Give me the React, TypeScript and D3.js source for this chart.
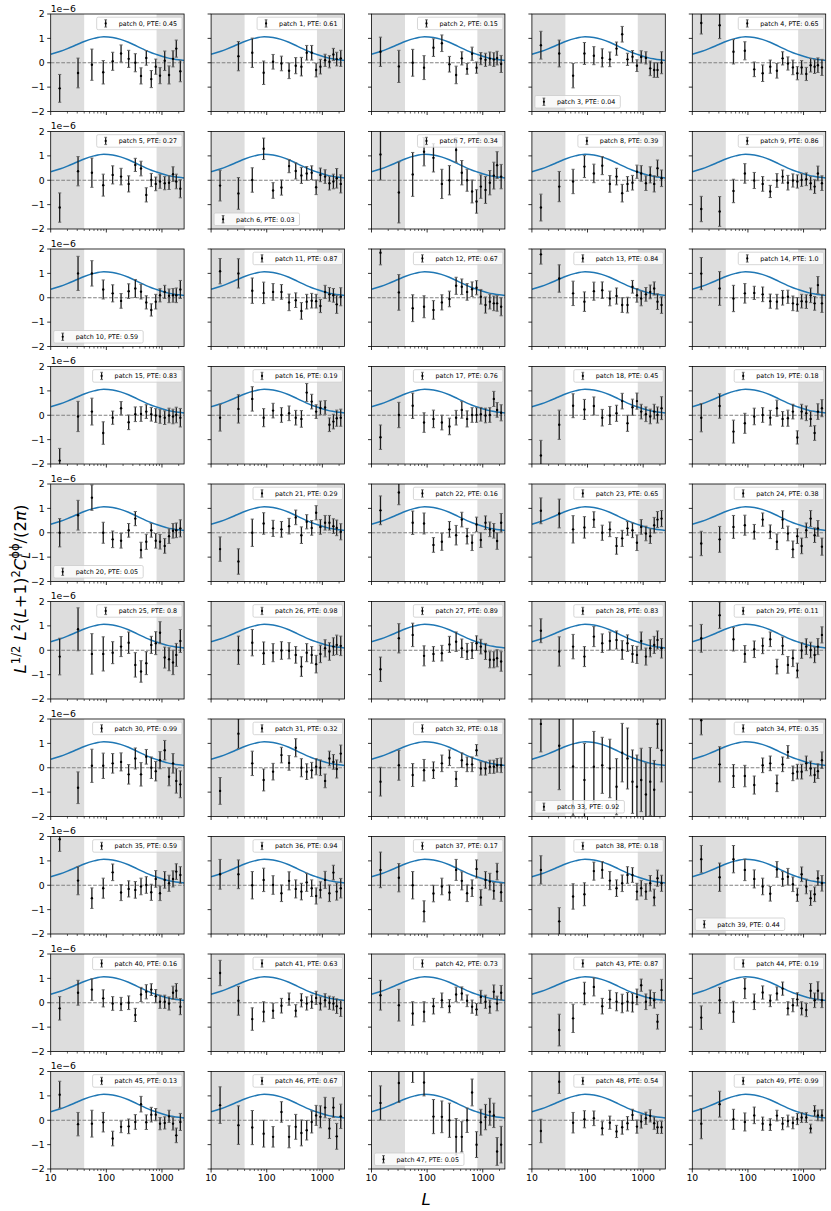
import React, { useEffect, useRef } from 'react';
import * as d3 from 'd3';

// Multipole bin centres (L), shared by every patch
const binCenters = [14.5, 31, 55, 88, 130, 184, 252, 332, 420, 523, 643, 773, 923, 1120, 1340, 1580, 1810, 2140];

// Theory curve (units of 1e-6)
const theoryL = [10, 15, 20, 30, 40, 60, 90, 130, 180, 250, 320, 400, 630, 800, 1000, 1260, 1600, 2000, 2500];
const theoryY = [0.35, 0.47, 0.58, 0.75, 0.87, 1.0, 1.07, 1.04, 0.96, 0.84, 0.73, 0.62, 0.42, 0.34, 0.27, 0.2, 0.155, 0.12, 0.09];

const ptes = ['0.45', '0.61', '0.15', '0.04', '0.65', '0.27', '0.03', '0.34', '0.39', '0.86',
  '0.59', '0.87', '0.67', '0.84', '1.0', '0.83', '0.19', '0.76', '0.45', '0.18',
  '0.05', '0.29', '0.16', '0.65', '0.38', '0.8', '0.98', '0.89', '0.83', '0.11',
  '0.99', '0.32', '0.18', '0.92', '0.35', '0.59', '0.94', '0.17', '0.18', '0.44',
  '0.16', '0.63', '0.73', '0.87', '0.19', '0.13', '0.67', '0.05', '0.54', '0.99'];

const lowerLegendPatches = [3, 6, 10, 20, 33, 39, 47];

// Band powers per patch (units of 1e-6); null = off the plotted range
const values: (number | null)[][] = [
  [-1.05, -0.42, -0.08, -0.39, 0.06, 0.38, 0.16, 0.0, -0.54, 0.2, -0.67, -0.16, -0.53, 0.08, -0.5, 0.16, 0.58, -0.35],
  [null, 0.27, 0.41, -0.41, 0.04, -0.03, -0.33, -0.12, -0.16, 0.41, 0.41, -0.3, -0.16, 0.1, 0.04, 0.34, 0.15, 0.18],
  [0.45, -0.15, 0.0, -0.2, 0.62, 0.8, -0.06, -0.5, 0.18, -0.25, 0.37, -0.2, 0.17, 0.12, 0.17, 0.13, 0.19, -0.05],
  [0.72, 0.38, -0.53, 0.38, 0.29, 0.2, 0.14, 0.58, 1.17, 0.14, 0.25, -0.12, 0.24, 0.2, -0.23, -0.3, -0.3, 0.0],
  [1.63, 1.54, 0.45, 0.49, -0.27, -0.43, -0.16, -0.33, 0.18, -0.03, -0.19, -0.43, -0.19, -0.46, -0.1, -0.16, -0.1, -0.19],
  [-1.12, 0.37, 0.31, -0.2, 0.22, 0.15, -0.15, 0.63, 0.48, -0.6, 0.01, -0.15, -0.05, -0.12, -0.1, 0.25, -0.05, -0.35],
  [-0.22, -0.54, 0.01, 1.29, -0.42, -0.3, 0.58, 0.38, 0.2, 0.28, 0.31, -0.29, 0.22, 0.15, -0.12, -0.05, 0.08, -0.15],
  [1.06, -0.5, 0.24, 1.17, 0.92, -0.15, 0.0, 1.24, 0.31, 0.0, -0.46, -0.87, -0.26, -0.4, -0.1, 0.19, 0.62, 0.15],
  [-1.12, -0.26, -0.05, 0.56, 0.28, 0.6, -0.15, 0.15, -0.53, -0.15, -0.1, 0.35, 0.28, -0.12, 0.22, -0.15, 0.49, 0.08],
  [-1.18, -1.28, -0.44, 0.28, -0.01, -0.15, -0.46, -0.01, 0.15, -0.1, -0.01, -0.05, 0.01, 0.04, -0.12, -0.26, 0.28, -0.12],
  [null, 1.0, 1.0, 0.34, 0.18, -0.13, 0.27, 0.38, 0.25, -0.19, -0.5, -0.16, 0.1, 0.24, 0.08, 0.1, 0.1, 0.34],
  [1.09, 1.0, 0.29, 0.2, 0.24, 0.24, -0.19, -0.1, -0.54, -0.16, -0.12, -0.14, -0.34, 0.24, 0.14, 0.1, -0.27, 0.04],
  [1.85, 0.22, -0.43, -0.37, -0.5, -0.19, -0.05, 0.49, 0.45, 0.24, 0.35, 0.41, 0.04, -0.3, -0.16, -0.23, -0.23, -0.37],
  [1.78, 0.79, 0.18, -0.16, 0.27, 0.31, -0.03, 0.07, -0.3, -0.3, 0.45, 0.1, -0.03, 0.14, 0.24, 0.38, -0.16, -0.3],
  [0.99, 0.38, -0.03, 0.18, 0.2, 0.14, -0.14, -0.16, 0.0, 0.04, -0.23, -0.27, -0.14, -0.16, 0.1, -0.23, 0.52, -0.23],
  [-1.86, -0.05, 0.15, -0.73, -0.1, 0.29, -0.29, 0.04, 0.05, 0.15, 0.04, -0.01, -0.05, -0.1, -0.01, -0.05, 0.01, -0.1],
  [-0.1, 0.26, 0.67, -0.1, 0.19, 0.01, 0.08, -0.1, -0.15, 0.93, 0.56, 0.15, 0.3, 0.32, -0.39, -0.26, -0.12, -0.1],
  [-0.9, 0.01, 0.39, -0.3, -0.15, -0.3, -0.46, -0.1, 0.22, -0.15, 0.01, 0.01, 0.04, -0.01, 0.01, 0.67, 0.22, 0.1],
  [-1.65, -0.39, 0.39, 0.24, 0.38, -0.1, -0.01, 0.08, 0.58, -0.33, 0.33, 0.58, 0.15, 0.04, -0.05, 0.15, 0.01, 0.29],
  [-0.1, 0.38, -0.67, -0.33, -0.05, 0.01, -0.1, 0.29, -0.15, -0.12, 0.15, -0.91, 0.15, 0.08, -0.15, -0.73, 0.15, 0.29],
  [0.0, 0.72, 1.44, 0.0, -0.27, -0.33, 0.1, 0.58, -0.71, -0.37, 0.1, -0.33, -0.37, -0.54, -0.14, 0.08, 0.1, 0.18],
  [-0.67, -1.18, 0.0, 0.38, 0.18, 0.14, 0.27, 0.63, -0.1, 0.45, 0.2, 0.82, 0.24, 0.41, 0.41, 0.27, 0.2, 0.04],
  [0.92, 1.65, 0.41, 0.38, -0.5, -0.37, 0.14, -0.1, 0.54, -0.14, -0.41, 0.34, -0.3, 0.41, 0.14, 0.08, -0.34, 0.41],
  [0.9, 0.79, 0.14, 0.22, 0.54, 0.0, 0.14, -0.54, -0.23, 0.18, 0.1, -0.41, 0.24, -0.03, -0.14, 0.31, 0.54, 0.58],
  [-0.44, -0.27, 0.24, 0.31, 0.04, 0.54, 0.04, -0.37, 0.54, -0.03, -0.68, -0.14, -0.54, 0.1, 0.58, -0.1, 0.18, -0.57],
  [-0.26, 0.86, -0.15, -0.15, -0.1, 0.15, 0.31, -0.6, -0.87, -0.53, 0.22, 0.29, 0.72, -0.3, -0.37, -0.5, -0.19, 0.38],
  [null, 0.0, 0.31, -0.12, -0.1, -0.01, -0.02, -0.19, -0.67, -0.1, -0.19, -0.57, -0.15, 0.08, -0.05, 0.15, 0.22, 0.18],
  [-0.78, 0.49, 0.63, -0.23, -0.15, -0.12, 0.24, 0.35, 0.08, -0.05, -0.01, 0.29, 0.15, -0.05, -0.39, -0.39, -0.33, -0.46],
  [0.8, -0.05, 0.15, -0.26, 0.56, 0.29, 0.38, 0.42, 0.01, 0.29, -0.15, -0.19, 0.38, -0.26, 0.08, 0.22, 0.42, 0.08],
  [0.49, 1.44, 0.45, -0.15, 0.04, 0.18, 0.45, -0.67, 0.18, -0.6, -0.33, -0.83, -0.01, 0.15, 0.01, -0.19, 0.15, 0.63],
  [null, -0.82, 0.08, 0.08, 0.18, 0.24, -0.27, 0.38, -0.27, 0.45, 0.0, -0.14, 0.31, 0.72, -0.37, 0.18, -0.54, -0.68],
  [-0.95, 1.4, 0.18, -0.5, -0.16, 0.52, 0.2, 0.82, 0.0, -0.16, -0.1, 0.04, 0.0, -0.54, 0.38, 0.24, -0.05, 0.58],
  [-0.57, 0.1, -0.3, -0.1, -0.1, 0.18, 0.41, -0.46, 0.31, 0.14, 0.14, 0.72, -0.03, -0.03, 0.04, 0.04, 0.1, 0.1],
  [1.8, 0.9, 0.05, -0.5, 0.04, 0.1, -0.03, -0.78, 0.62, 0.38, -0.57, -0.78, -0.5, -1.1, -0.57, -0.9, 1.8, 0.72],
  [1.95, 0.14, -0.34, -0.34, -0.71, 0.1, 0.18, -0.64, 0.14, 0.65, -0.23, -0.16, -0.16, 0.18, -0.03, -0.3, -0.14, 0.31],
  [1.89, 0.19, -0.53, -0.12, 0.53, -0.3, -0.15, -0.19, -0.05, 0.01, -0.29, 0.26, -0.33, 0.22, 0.08, 0.26, 0.56, 0.42],
  [0.45, 0.45, 0.0, 0.22, 0.01, -0.33, 0.18, -0.15, -0.26, 0.12, -0.12, -0.44, -0.19, 0.22, -0.33, 0.52, -0.26, -0.12],
  [0.63, 0.31, 0.0, -1.07, -0.34, -0.05, -0.3, 0.63, 0.18, -0.33, -0.12, 0.67, -0.5, 0.22, 0.15, -0.23, 0.56, -0.29],
  [0.63, -1.48, -0.46, -0.37, 0.58, 0.63, 0.19, -0.12, 0.08, 0.42, 0.42, -0.26, -0.12, -0.26, 0.08, -0.5, 0.29, 0.08],
  [1.07, 0.33, 1.07, 0.63, 0.26, -0.05, -0.35, 0.65, 0.26, 0.35, 0.04, -0.39, 0.45, -0.05, -0.53, -0.37, 0.29, 0.08],
  [-0.23, 0.41, 0.54, 0.18, -0.03, -0.05, 0.0, -0.5, 0.34, 0.45, 0.54, 0.27, 0.04, 0.04, -0.03, 0.41, 0.49, -0.16],
  [1.22, 0.08, -0.67, -0.37, -0.33, -0.12, 0.15, -0.33, 0.1, -0.03, 0.04, 0.2, -0.03, 0.1, 0.0, -0.03, -0.14, -0.23],
  [0.31, -0.1, -0.44, -0.37, -0.14, 0.1, -0.14, 0.34, 0.38, 0.08, -0.16, -0.27, 0.24, 0.04, -0.16, 0.45, -0.03, 0.41],
  [null, -1.12, -0.64, 0.38, 0.65, -0.14, 0.14, 0.04, -0.03, 0.04, 0.0, 0.24, 0.72, 0.04, 0.2, 0.1, -0.78, 0.52],
  [-0.61, 0.1, -0.37, 0.58, 0.04, 0.42, 0.08, 0.38, 0.58, -0.23, -0.1, 0.14, -0.23, -0.3, 0.49, 0.1, 0.49, 0.1],
  [1.05, -0.16, -0.14, -0.08, -0.75, -0.27, -0.25, -0.07, 0.66, -0.08, 0.23, 0.23, -0.14, -0.11, 0.16, -0.14, -0.62, -0.07],
  [0.62, -0.2, -0.3, -0.55, -0.68, 0.34, -0.68, -0.27, -0.52, -0.41, -0.07, 0.2, 0.14, 0.52, -0.34, 0.52, -0.66, 0.16],
  [0.71, 1.53, 2.2, 1.55, 0.15, 0.14, 0.0, -0.68, -0.68, 0.0, 1.14, -1.0, -0.08, 0.13, 0.35, 0.2, -1.28, -1.0],
  [-0.44, 1.58, -0.1, 0.04, 0.08, -0.33, -0.1, -0.46, -0.29, -0.12, 0.22, -0.26, -0.05, 0.08, 0.18, -0.12, -0.29, -0.29],
  [-0.14, 0.66, 0.04, -0.07, 0.2, -0.14, -0.18, 0.19, -0.14, -0.03, -0.11, 0.05, 0.11, 0.11, -0.34, 0.38, 0.2, 0.2],
];

// 1-sigma errors per patch (units of 1e-6)
const errors: number[][] = [
  [0.57, 0.61, 0.64, 0.48, 0.37, 0.35, 0.35, 0.37, 0.33, 0.3, 0.35, 0.31, 0.33, 0.4, 0.37, 0.33, 0.35, 0.43],
  [0.6, 0.6, 0.6, 0.48, 0.3, 0.3, 0.32, 0.33, 0.38, 0.3, 0.3, 0.28, 0.3, 0.25, 0.25, 0.25, 0.28, 0.33],
  [0.6, 0.66, 0.55, 0.49, 0.36, 0.34, 0.32, 0.36, 0.27, 0.22, 0.27, 0.23, 0.25, 0.27, 0.27, 0.28, 0.28, 0.35],
  [0.57, 0.55, 0.5, 0.45, 0.37, 0.37, 0.3, 0.27, 0.32, 0.25, 0.25, 0.24, 0.25, 0.25, 0.3, 0.3, 0.3, 0.45],
  [0.45, 0.55, 0.5, 0.37, 0.3, 0.34, 0.27, 0.3, 0.27, 0.27, 0.3, 0.27, 0.28, 0.27, 0.28, 0.28, 0.3, 0.33],
  [0.6, 0.6, 0.6, 0.45, 0.37, 0.34, 0.33, 0.27, 0.3, 0.29, 0.27, 0.28, 0.28, 0.27, 0.28, 0.3, 0.3, 0.37],
  [0.63, 0.65, 0.5, 0.44, 0.32, 0.31, 0.27, 0.33, 0.33, 0.28, 0.28, 0.3, 0.28, 0.28, 0.28, 0.3, 0.4, 0.37],
  [1.05, 1.25, 0.9, 0.58, 0.58, 0.6, 0.6, 0.5, 0.5, 0.45, 0.47, 0.48, 0.48, 0.55, 0.5, 0.55, 0.55, 0.5],
  [0.55, 0.62, 0.5, 0.45, 0.38, 0.37, 0.34, 0.34, 0.36, 0.3, 0.3, 0.27, 0.32, 0.3, 0.33, 0.33, 0.34, 0.34],
  [0.52, 0.61, 0.48, 0.4, 0.33, 0.3, 0.25, 0.28, 0.27, 0.3, 0.27, 0.27, 0.26, 0.26, 0.27, 0.28, 0.3, 0.3],
  [0.6, 0.7, 0.52, 0.39, 0.35, 0.3, 0.3, 0.37, 0.3, 0.27, 0.25, 0.3, 0.27, 0.27, 0.28, 0.28, 0.3, 0.37],
  [0.52, 0.6, 0.52, 0.44, 0.34, 0.3, 0.34, 0.3, 0.34, 0.3, 0.3, 0.28, 0.27, 0.27, 0.28, 0.28, 0.37, 0.37],
  [0.5, 0.73, 0.55, 0.45, 0.38, 0.31, 0.32, 0.35, 0.32, 0.34, 0.3, 0.29, 0.3, 0.33, 0.3, 0.3, 0.32, 0.37],
  [0.4, 0.56, 0.5, 0.4, 0.37, 0.34, 0.3, 0.33, 0.3, 0.32, 0.26, 0.28, 0.3, 0.28, 0.28, 0.27, 0.32, 0.34],
  [0.66, 0.69, 0.54, 0.4, 0.27, 0.3, 0.29, 0.3, 0.3, 0.27, 0.3, 0.28, 0.28, 0.28, 0.3, 0.28, 0.35, 0.37],
  [0.5, 0.62, 0.55, 0.46, 0.27, 0.27, 0.3, 0.3, 0.3, 0.28, 0.28, 0.28, 0.28, 0.28, 0.3, 0.3, 0.32, 0.38],
  [0.55, 0.58, 0.5, 0.37, 0.3, 0.3, 0.3, 0.3, 0.34, 0.37, 0.3, 0.28, 0.28, 0.28, 0.28, 0.3, 0.33, 0.35],
  [0.5, 0.52, 0.52, 0.4, 0.36, 0.3, 0.34, 0.3, 0.34, 0.33, 0.3, 0.3, 0.28, 0.3, 0.3, 0.31, 0.3, 0.33],
  [0.62, 0.6, 0.49, 0.41, 0.37, 0.34, 0.37, 0.33, 0.32, 0.33, 0.33, 0.33, 0.3, 0.3, 0.3, 0.3, 0.33, 0.47],
  [0.58, 0.5, 0.47, 0.41, 0.34, 0.3, 0.3, 0.33, 0.3, 0.33, 0.3, 0.27, 0.3, 0.3, 0.3, 0.3, 0.32, 0.35],
  [0.58, 0.61, 0.52, 0.43, 0.34, 0.3, 0.28, 0.29, 0.32, 0.31, 0.28, 0.3, 0.3, 0.3, 0.3, 0.3, 0.3, 0.35],
  [0.5, 0.52, 0.56, 0.44, 0.33, 0.32, 0.32, 0.3, 0.34, 0.29, 0.3, 0.29, 0.3, 0.3, 0.3, 0.3, 0.32, 0.33],
  [0.59, 0.5, 0.48, 0.43, 0.3, 0.35, 0.32, 0.4, 0.3, 0.32, 0.32, 0.3, 0.3, 0.28, 0.3, 0.3, 0.34, 0.38],
  [0.53, 0.59, 0.56, 0.44, 0.32, 0.31, 0.3, 0.34, 0.33, 0.28, 0.3, 0.32, 0.3, 0.3, 0.3, 0.32, 0.33, 0.33],
  [0.5, 0.53, 0.47, 0.41, 0.3, 0.27, 0.28, 0.32, 0.36, 0.3, 0.34, 0.3, 0.32, 0.3, 0.33, 0.3, 0.32, 0.35],
  [0.75, 0.88, 0.83, 0.7, 0.45, 0.41, 0.44, 0.5, 0.44, 0.47, 0.35, 0.47, 0.45, 0.43, 0.47, 0.5, 0.47, 0.47],
  [0.6, 0.58, 0.54, 0.46, 0.37, 0.36, 0.33, 0.34, 0.4, 0.37, 0.34, 0.36, 0.36, 0.35, 0.36, 0.36, 0.4, 0.4],
  [0.5, 0.6, 0.48, 0.41, 0.3, 0.32, 0.33, 0.4, 0.38, 0.33, 0.33, 0.3, 0.3, 0.33, 0.33, 0.33, 0.35, 0.4],
  [0.49, 0.6, 0.5, 0.41, 0.41, 0.38, 0.37, 0.37, 0.38, 0.34, 0.34, 0.35, 0.37, 0.35, 0.35, 0.35, 0.37, 0.4],
  [0.57, 0.54, 0.48, 0.34, 0.34, 0.32, 0.3, 0.3, 0.36, 0.34, 0.34, 0.3, 0.32, 0.32, 0.32, 0.32, 0.33, 0.33],
  [0.6, 0.65, 0.68, 0.52, 0.4, 0.37, 0.4, 0.43, 0.48, 0.3, 0.44, 0.4, 0.35, 0.4, 0.37, 0.4, 0.5, 0.55],
  [0.55, 0.61, 0.5, 0.45, 0.34, 0.32, 0.3, 0.37, 0.37, 0.32, 0.32, 0.33, 0.32, 0.28, 0.3, 0.3, 0.37, 0.35],
  [0.59, 0.61, 0.47, 0.44, 0.34, 0.34, 0.32, 0.31, 0.3, 0.3, 0.3, 0.23, 0.27, 0.27, 0.27, 0.27, 0.28, 0.3],
  [1.15, 1.8, 2.0, 1.5, 1.45, 1.15, 1.2, 1.15, 1.2, 1.25, 1.3, 1.3, 1.3, 1.3, 1.4, 1.2, 1.0, 1.3],
  [0.6, 0.72, 0.47, 0.44, 0.37, 0.3, 0.3, 0.34, 0.3, 0.26, 0.3, 0.3, 0.3, 0.3, 0.3, 0.3, 0.3, 0.34],
  [0.5, 0.58, 0.42, 0.41, 0.34, 0.33, 0.33, 0.34, 0.34, 0.34, 0.33, 0.34, 0.3, 0.34, 0.33, 0.33, 0.32, 0.34],
  [0.61, 0.59, 0.56, 0.48, 0.38, 0.34, 0.37, 0.37, 0.34, 0.37, 0.34, 0.33, 0.33, 0.35, 0.34, 0.3, 0.35, 0.4],
  [0.73, 0.58, 0.56, 0.43, 0.34, 0.34, 0.31, 0.43, 0.37, 0.34, 0.34, 0.37, 0.32, 0.34, 0.34, 0.34, 0.34, 0.37],
  [0.58, 0.56, 0.52, 0.47, 0.37, 0.34, 0.37, 0.34, 0.34, 0.34, 0.3, 0.34, 0.32, 0.32, 0.32, 0.34, 0.33, 0.33],
  [0.56, 0.58, 0.56, 0.44, 0.37, 0.34, 0.3, 0.32, 0.3, 0.34, 0.3, 0.27, 0.3, 0.3, 0.3, 0.3, 0.3, 0.32],
  [0.48, 0.51, 0.44, 0.35, 0.28, 0.27, 0.28, 0.27, 0.29, 0.29, 0.24, 0.27, 0.27, 0.27, 0.27, 0.27, 0.3, 0.33],
  [0.52, 0.59, 0.46, 0.41, 0.31, 0.3, 0.25, 0.25, 0.27, 0.27, 0.27, 0.27, 0.27, 0.27, 0.27, 0.27, 0.3, 0.33],
  [0.61, 0.65, 0.48, 0.41, 0.32, 0.3, 0.27, 0.3, 0.27, 0.24, 0.27, 0.24, 0.27, 0.27, 0.27, 0.28, 0.3, 0.3],
  [0.6, 0.65, 0.58, 0.46, 0.37, 0.32, 0.37, 0.37, 0.38, 0.38, 0.38, 0.32, 0.25, 0.32, 0.32, 0.32, 0.3, 0.44],
  [0.48, 0.53, 0.43, 0.41, 0.32, 0.27, 0.24, 0.27, 0.27, 0.27, 0.27, 0.27, 0.27, 0.27, 0.3, 0.3, 0.37, 0.3],
  [0.55, 0.48, 0.55, 0.4, 0.3, 0.24, 0.3, 0.3, 0.32, 0.3, 0.3, 0.25, 0.25, 0.25, 0.25, 0.26, 0.3, 0.35],
  [0.75, 0.79, 0.7, 0.55, 0.42, 0.42, 0.45, 0.51, 0.53, 0.4, 0.45, 0.41, 0.45, 0.42, 0.41, 0.4, 0.53, 0.5],
  [0.7, 0.8, 0.65, 0.55, 0.7, 0.65, 0.7, 0.75, 0.62, 0.5, 0.55, 0.53, 0.53, 0.52, 0.55, 0.5, 0.57, 0.75],
  [0.48, 0.48, 0.42, 0.35, 0.3, 0.27, 0.27, 0.25, 0.28, 0.27, 0.23, 0.27, 0.27, 0.25, 0.25, 0.25, 0.25, 0.25],
  [0.62, 0.53, 0.41, 0.37, 0.34, 0.27, 0.24, 0.22, 0.25, 0.24, 0.24, 0.23, 0.2, 0.2, 0.18, 0.22, 0.22, 0.23],
];

const yTicks = [-2, -1, 0, 1, 2];
const xMajorTicks = [10, 100, 1000];
const xMinorTicks = [20, 30, 40, 50, 60, 70, 80, 90, 200, 300, 400, 500, 600, 700, 800, 900, 2000];
const xDomain = [10, 2500];
const maskLow = [10, 40];
const maskHigh = [800, 2500];

const W = 831;
const H = 1211;
const NCOLS = 5;
const LEFT0 = 50.7;
const TOP0 = 14;
const COLP = 160.4;
const ROWP = 117.5;
const PW = 133.4;
const PH = 97.5;
const FONT = "'DejaVu Sans', 'Liberation Sans', sans-serif";

export default function App() {
  const ref = useRef<SVGSVGElement>(null);

  useEffect(() => {
    const svg = d3.select(ref.current as SVGSVGElement);
    svg.selectAll('*').remove();
    svg.append('rect').attr('width', W).attr('height', H).attr('fill', '#fff');

    const x = d3.scaleLog().domain(xDomain).range([0, PW]);
    const y = d3.scaleLinear().domain([-2, 2]).range([PH, 0]);
    const line = d3
      .line<number>()
      .x((_, i) => x(theoryL[i]))
      .y((d) => y(d))
      .curve(d3.curveMonotoneX);

    const defs = svg.append('defs');

    values.forEach((vals, p) => {
      const r = Math.floor(p / NCOLS);
      const c = p % NCOLS;
      const g = svg.append('g').attr('transform', `translate(${LEFT0 + c * COLP},${TOP0 + r * ROWP})`);

      defs
        .append('clipPath')
        .attr('id', `clip${p}`)
        .append('rect')
        .attr('x', 0)
        .attr('y', 0)
        .attr('width', PW)
        .attr('height', PH);

      const inner = g.append('g').attr('clip-path', `url(#clip${p})`);
      // masked regions
      [maskLow, maskHigh].forEach((m) => {
        inner
          .append('rect')
          .attr('x', x(m[0]))
          .attr('y', 0)
          .attr('width', x(m[1]) - x(m[0]))
          .attr('height', PH)
          .attr('fill', '#dddddd');
      });
      // zero line
      inner
        .append('line')
        .attr('x1', 0)
        .attr('x2', PW)
        .attr('y1', y(0))
        .attr('y2', y(0))
        .attr('stroke', '#808080')
        .attr('stroke-width', 1)
        .attr('stroke-dasharray', '3.7,1.6');
      // theory
      inner
        .append('path')
        .attr('d', line(theoryY) as string)
        .attr('fill', 'none')
        .attr('stroke', '#1f77b4')
        .attr('stroke-width', 1.5);
      // error bars
      vals.forEach((v, i) => {
        if (v === null) return;
        const e = errors[p][i];
        const cx = x(binCenters[i]);
        const y0 = y(v - e);
        const y1 = y(v + e);
        inner
          .append('line')
          .attr('x1', cx)
          .attr('x2', cx)
          .attr('y1', y0)
          .attr('y2', y1)
          .attr('stroke', '#1e1e1e')
          .attr('stroke-width', 1.3);
        [y0, y1].forEach((yy) => {
          inner
            .append('line')
            .attr('x1', cx - 1.6)
            .attr('x2', cx + 1.6)
            .attr('y1', yy)
            .attr('y2', yy)
            .attr('stroke', '#666')
            .attr('stroke-width', 1);
        });
        inner.append('circle').attr('cx', cx).attr('cy', y(v)).attr('r', 1.2).attr('fill', '#000');
      });

      // frame
      g.append('rect')
        .attr('x', 0)
        .attr('y', 0)
        .attr('width', PW)
        .attr('height', PH)
        .attr('fill', 'none')
        .attr('stroke', '#000')
        .attr('stroke-width', 0.8);

      // ticks
      yTicks.forEach((t) => {
        g.append('line')
          .attr('x1', -3.5)
          .attr('x2', 0)
          .attr('y1', y(t))
          .attr('y2', y(t))
          .attr('stroke', '#000')
          .attr('stroke-width', 0.8);
      });
      xMajorTicks.forEach((t) => {
        g.append('line')
          .attr('x1', x(t))
          .attr('x2', x(t))
          .attr('y1', PH)
          .attr('y2', PH + 3.5)
          .attr('stroke', '#000')
          .attr('stroke-width', 0.8);
      });
      xMinorTicks.forEach((t) => {
        g.append('line')
          .attr('x1', x(t))
          .attr('x2', x(t))
          .attr('y1', PH)
          .attr('y2', PH + 2)
          .attr('stroke', '#000')
          .attr('stroke-width', 0.6);
      });

      if (c === 0) {
        yTicks.forEach((t) => {
          g.append('text')
            .attr('x', -6)
            .attr('y', y(t))
            .attr('dy', '0.36em')
            .attr('text-anchor', 'end')
            .attr('font-family', FONT)
            .attr('font-size', 9.3)
            .attr('fill', '#000')
            .text(t < 0 ? `\u2212${Math.abs(t)}` : `${t}`);
        });
        g.append('text')
          .attr('x', 0)
          .attr('y', -2.5)
          .attr('font-family', FONT)
          .attr('font-size', 9.3)
          .attr('fill', '#000')
          .text('1e\u22126');
      }
      if (r === 9) {
        xMajorTicks.forEach((t) => {
          g.append('text')
            .attr('x', x(t))
            .attr('y', PH + 5)
            .attr('dy', '0.8em')
            .attr('text-anchor', 'middle')
            .attr('font-family', FONT)
            .attr('font-size', 9.3)
            .attr('fill', '#000')
            .text(`${t}`);
        });
      }

      // legend
      const lower = lowerLegendPatches.includes(p);
      const lg = g.append('g');
      const rect = lg.append('rect');
      const txt = lg
        .append('text')
        .attr('font-family', FONT)
        .attr('font-size', 6.4)
        .attr('fill', '#000')
        .text(`patch ${p}, PTE: ${ptes[p]}`);
      const tw = (txt.node() as SVGTextElement).getComputedTextLength();
      const bw = 22 + tw + 5;
      const bh = 12.5;
      const bx = lower ? 3 : PW - 2 - bw;
      const by = lower ? PH - 3.5 - bh : 3.2;
      rect
        .attr('x', bx)
        .attr('y', by)
        .attr('width', bw)
        .attr('height', bh)
        .attr('rx', 1.5)
        .attr('fill', '#fff')
        .attr('fill-opacity', 0.8)
        .attr('stroke', '#cccccc')
        .attr('stroke-width', 0.8);
      txt.attr('x', bx + 22).attr('y', by + bh / 2 + 2.3);
      const ix = bx + 9;
      lg.append('line')
        .attr('x1', ix)
        .attr('x2', ix)
        .attr('y1', by + 2.6)
        .attr('y2', by + bh - 2.6)
        .attr('stroke', '#1e1e1e')
        .attr('stroke-width', 1.2);
      [by + 2.6, by + bh - 2.6].forEach((yy) => {
        lg.append('line')
          .attr('x1', ix - 1.4)
          .attr('x2', ix + 1.4)
          .attr('y1', yy)
          .attr('y2', yy)
          .attr('stroke', '#666')
          .attr('stroke-width', 0.9);
      });
      lg.append('circle').attr('cx', ix).attr('cy', by + bh / 2).attr('r', 1.1).attr('fill', '#000');
    });

    // x label
    svg
      .append('text')
      .attr('x', 426)
      .attr('y', 1205)
      .attr('text-anchor', 'middle')
      .attr('font-family', FONT)
      .attr('font-style', 'italic')
      .attr('font-size', 16.5)
      .attr('fill', '#000')
      .text('L');

    // y label (mathtext-like)
    const yl = svg
      .append('text')
      .attr('transform', 'translate(26,589) rotate(-90)')
      .attr('text-anchor', 'middle')
      .attr('font-family', FONT)
      .attr('font-size', 16.5)
      .attr('fill', '#000');
    const it = (s: string) => yl.append('tspan').attr('font-style', 'italic').text(s);
    const rm = (s: string) => yl.append('tspan').text(s);
    const sup = (s: string, italic = false, dx = 0) =>
      yl
        .append('tspan')
        .attr('font-size', 11.5)
        .attr('dy', -6.5)
        .attr('dx', dx)
        .attr('font-style', italic ? 'italic' : 'normal')
        .text(s);
    const down = (s: string, italic = false, dy = 6.5) =>
      yl
        .append('tspan')
        .attr('dy', dy)
        .attr('font-style', italic ? 'italic' : 'normal')
        .text(s);
    it('L');
    sup('1/2');
    down(' ', false);
    it('L');
    sup('2');
    down('(', false);
    it('L');
    rm('+1)');
    sup('2');
    down('C', true);
    yl.append('tspan').attr('font-size', 11.5).attr('font-style', 'italic').attr('dy', 3.5).text('L');
    yl.append('tspan').attr('font-size', 11.5).attr('dx', -6.5).attr('dy', -10.5).text('\u03d5\u03d5');
    down('/(2', false, 7);
    it('\u03c0');
    rm(')');
  }, []);

  return (
    <svg
      ref={ref}
      width={W}
      height={H}
      style={{ position: 'absolute', left: 0, top: 0, display: 'block' }}
    />
  );
}
